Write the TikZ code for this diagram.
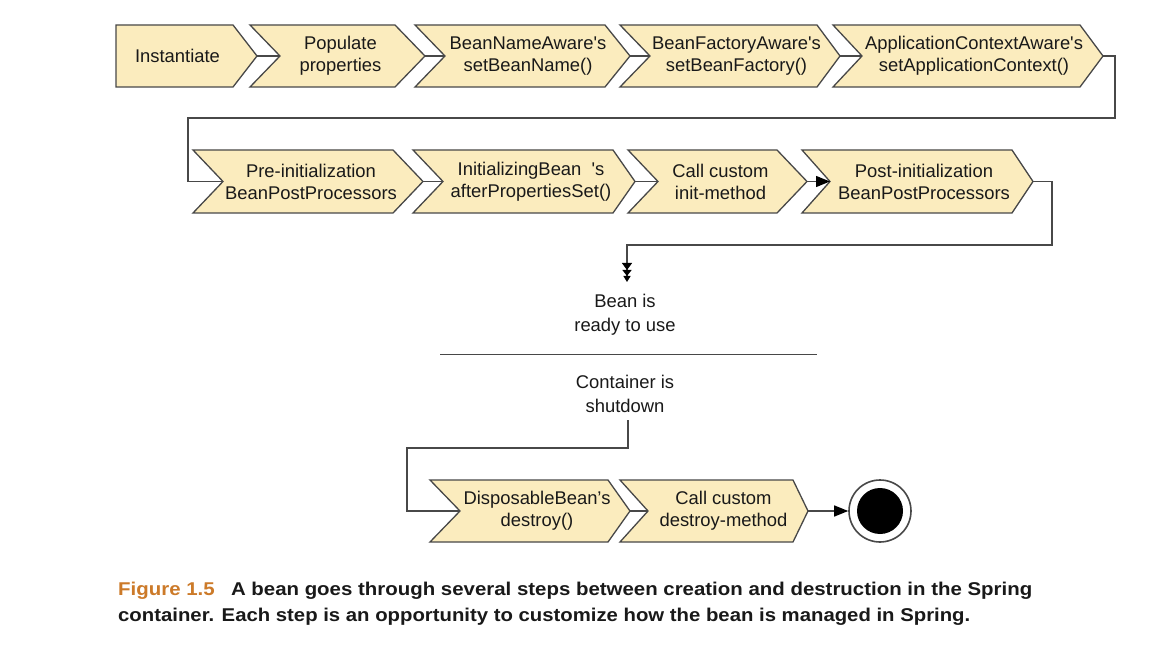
\documentclass[tikz,border=0pt]{standalone}
\usepackage{fontspec}
\setmainfont{Liberation Sans}
\usepackage{graphicx}
\usetikzlibrary{arrows.meta}
\definecolor{chevfill}{RGB}{251,236,190}
\definecolor{lineclr}{RGB}{72,72,72}
\definecolor{txt}{RGB}{25,25,25}
\definecolor{figclr}{RGB}{204,122,41}
\newcommand\chevron[8]{%
  \pgfmathsetmacro\ym{(#6+#7)/2}%
  \pgfmathsetmacro\xc{(#3+#4)/2+3}%
  \draw[chevbox] (#2,#6) -- (#4,#6) -- (#5,\ym) -- (#4,#7) -- (#2,#7) -- (#3,\ym) -- cycle;
  \coordinate (#1-in) at (#3,\ym);
  \coordinate (#1-out) at (#5,\ym);
  \node[steptext] (#1) at (\xc,\ym) {#8};
}
\tikzset{
  chevbox/.style={draw=lineclr, fill=chevfill, line width=1.3pt, line join=miter},
  steptext/.style={text=txt, font=\fontsize{18.4}{22}\selectfont, align=center, inner sep=0pt},
  conn/.style={draw=lineclr, line width=1.3pt},
  plaintext/.style={text=txt, font=\fontsize{18.4}{24}\selectfont, align=center, inner sep=0pt},
  captext/.style={text=txt, font=\fontsize{18.5}{22}\selectfont\bfseries, inner sep=0pt, anchor=base west},
  headtip/.style={-{Triangle[length=14pt,width=11pt,color=black,fill=black]}}
}
\begin{document}
\begin{tikzpicture}[x=1pt,y=-1pt]
\fill[white] (0,0) rectangle (1168,663);
\useasboundingbox (0,0) rectangle (1168,663);
% row 1
\chevron{inst}{116}{116}{233}{257}{25}{87}{Instantiate}
\chevron{pop}{250}{280}{395}{425}{25}{87}{Populate\\properties}
\chevron{bna}{415}{445}{605}{630}{25}{87}{BeanNameAware\textquotesingle s\\setBeanName()}
\chevron{bfa}{620}{650}{817}{840}{25}{87}{BeanFactoryAware\textquotesingle s\\setBeanFactory()}
\chevron{aca}{833}{862}{1080}{1103}{25}{87}{ApplicationContextAware\textquotesingle s\\setApplicationContext()}
% row 2
\chevron{pre}{193}{223}{393}{423}{150}{213}{Pre-initialization\\BeanPostProcessors}
\chevron{ini}{413}{443}{613}{635}{150}{213}{InitializingBean\hspace{0.55em}\textquotesingle s\\afterPropertiesSet()}
\chevron{cin}{628}{658}{777}{807}{150}{213}{Call custom\\init-method}
\chevron{post}{802}{830}{1012}{1033}{150}{213}{Post-initialization\\BeanPostProcessors}
% row 3
\chevron{disp}{430}{460}{608}{630}{480}{542}{DisposableBean’s\\destroy()}
\chevron{dest}{620}{648}{793}{808}{480}{542}{Call custom\\destroy-method}
% connectors row 1
\draw[conn] (inst-out) -- (pop-in);
\draw[conn] (pop-out) -- (bna-in);
\draw[conn] (bna-out) -- (bfa-in);
\draw[conn] (bfa-out) -- (aca-in);
\coordinate (r1a) at (1115,118);
\coordinate (r1b) at (188,118);
\draw[conn] (aca-out) -| (r1a) -- (r1b) |- (pre-in);
% connectors row 2
\draw[conn] (pre-out) -- (ini-in);
\draw[conn] (ini-out) -- (cin-in);
\draw[conn, headtip] (cin-out) -- (post-in);
\coordinate (r2a) at (1052,245);
\coordinate (r2b) at (627,245);
\coordinate (r2c) at (627,282);
\draw[conn, -{Triangle[length=7pt,width=10pt,color=black,fill=black] Triangle[length=6pt,width=9pt,color=black,fill=black] Triangle[length=6pt,width=7pt,color=black,fill=black]}] (post-out) -| (r2a) -- (r2b) -- (r2c);
% state texts
\node[plaintext] (ready) at (625,315) {Bean is\\ready to use};
\coordinate (divl) at (440,354);
\coordinate (divr) at (817,354);
\draw[draw=lineclr, line width=1pt] (divl) -- (divr);
\node[plaintext] (shut) at (625,394) {Container is\\shutdown};
\coordinate (s0) at (628,420);
\coordinate (s1) at (407,448);
\draw[conn] (s0) |- (s1) |- (disp-in);
% row 3 connectors
\draw[conn] (disp-out) -- (dest-in);
\node[circle, draw=lineclr, line width=1.6pt, fill=white, minimum size=62pt, inner sep=0pt] (endc) at (880,511) {};
\node[circle, fill=black, minimum size=46pt, inner sep=0pt] (endin) at (endc) {};
\draw[conn, headtip] (dest-out) -- (endc);
% caption
\node[captext] (cap1) at (118,595) {\resizebox{914pt}{\height}{\textcolor{figclr}{Figure 1.5}\hspace{0.8em}A bean goes through several steps between creation and destruction in the Spring}};
\node[captext] (cap2) at (118,621) {\resizebox{852pt}{\height}{container. Each step is an opportunity to customize how the bean is managed in Spring.}};
\end{tikzpicture}
\end{document}
